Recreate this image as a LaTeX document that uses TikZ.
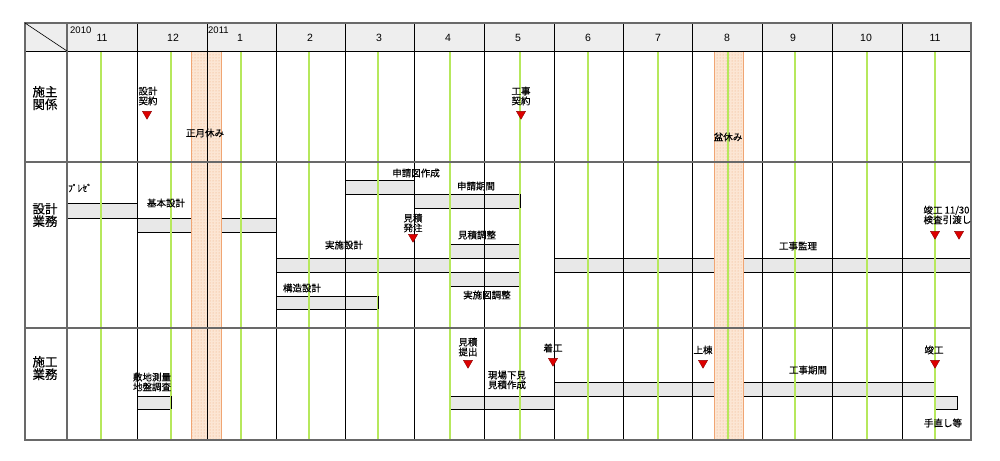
\documentclass[tikz,border=0pt]{standalone}
\usepackage{fontspec}
\setmainfont{Liberation Sans}
\newfontfamily\jp[FakeBold=0.35]{Noto Sans CJK JP}
\usetikzlibrary{patterns,shapes.geometric}
\definecolor{hdrfill}{RGB}{238,238,238}
\definecolor{barfill}{RGB}{232,232,232}
\definecolor{gline}{RGB}{182,232,92}
\definecolor{holfill}{RGB}{252,230,212}
\definecolor{holdot}{RGB}{238,168,118}
\definecolor{holedge}{RGB}{240,165,115}
\definecolor{framec}{RGB}{105,105,105}
\definecolor{mred}{RGB}{222,0,0}
\begin{document}
\begin{tikzpicture}[x=1pt,y=-1pt,
  lab/.style={font=\jp\fontsize{9.5}{9.8}\selectfont, inner sep=0pt, align=center},
  rowlab/.style={font=\jp\fontsize{12.5}{12.5}\selectfont, inner sep=0pt, align=center},
  mon/.style={font=\fontsize{10.5}{10.5}\selectfont, inner sep=0pt},
  yr/.style={font=\fontsize{9.5}{9.5}\selectfont, inner sep=0pt, anchor=west},
  bar/.style={fill=barfill, draw=black, line width=0.8pt},
  wbar/.style={fill=white, draw=black, line width=0.8pt},
  tri/.style={regular polygon, regular polygon sides=3, shape border rotate=180,
    fill=mred, draw=mred!65!black, line width=0.4pt, minimum size=10.5pt, inner sep=0pt},
  gl/.style={gline, line width=1.2pt},
  cl/.style={black, line width=0.8pt},
  fr/.style={framec, line width=1.5pt}
]
\useasboundingbox (0,0) rectangle (1000,460);
\fill[white] (0,0) rectangle (1000,460);
\fill[hdrfill] (25,23) rectangle (971,51);

% bars
\draw[bar] (67,203) rectangle (137,218);
\draw[bar] (137,218) rectangle (276,232);
\draw[bar] (345,180) rectangle (414,194);
\draw[bar] (414,194) rectangle (520,208);
\draw[bar] (276,258) rectangle (450,272);
\draw[wbar] (450,258) rectangle (520,272);
\draw[bar] (554,258) rectangle (971,272);
\draw[bar] (450,244) rectangle (520,258);
\draw[bar] (450,272) rectangle (520,286);
\draw[bar] (276,296) rectangle (378,309);
\draw[bar] (137,396) rectangle (171,409);
\draw[bar] (450,396) rectangle (554,409);
\draw[bar] (554,382) rectangle (935,396);
\draw[bar] (935,396) rectangle (957,409);

% holidays
\foreach \a/\b in {191/221,714/743} {
  \fill[holfill] (\a,51) rectangle (\b,440);
  \fill[pattern=dots, pattern color=holdot] (\a,51) rectangle (\b,440);
  \draw[holedge, line width=0.8pt] (\a,51) -- (\a,440) (\b,51) -- (\b,440);
}

% vertical lines
\foreach \x in {101,171,241,309,378,450,520,588,658,728,795,867,935}
  \draw[gl] (\x,51) -- (\x,440);
\foreach \x in {137,207,276,345,414,484,554,623,692,762,832,902}
  \draw[cl] (\x,23) -- (\x,440);
\draw[black, line width=0.6pt] (414,194) -- (414,208) (520,194) -- (520,208)
  (378,296) -- (378,309) (171,396) -- (171,409) (957,396) -- (957,409);
\draw[cl] (25,51) -- (971,51);
\draw[fr] (25,162) -- (971,162) (25,328) -- (971,328) (67,23) -- (67,440);
\draw[fr] (25,23) rectangle (971,440);
\draw[black, line width=0.6pt] (25,23) -- (67,51);

% header
\node[yr] (y2010) at (70,30) {2010};
\node[yr] (y2011) at (208,30) {2011};
\foreach \m/\x [count=\i] in {11/102,12/173,1/240,2/310,3/379,4/448,5/518,6/588,7/658,8/727,9/793,10/866,11/935}
  \node[mon] (mon\i) at (\x,38) {\m};

% row labels
\node[rowlab] (r1) at (45,98) {施主\\関係};
\node[rowlab] (r2) at (45,215) {設計\\業務};
\node[rowlab] (r3) at (45,368) {施工\\業務};

% row 1
\node[lab] (t1) at (148,96) {設計\\契約};
\node[tri] (m1) at (147,114) {};
\node[lab] (t2) at (521,96) {工事\\契約};
\node[tri] (m2) at (521,114) {};
\node[lab] (t3) at (205,133) {正月休み};
\node[lab] (t4) at (728,137) {盆休み};

% row 2
\node[lab] (t5) at (80,188) {ﾌﾟﾚｾﾞ};
\node[lab] (t6) at (166,203) {基本設計};
\node[lab] (t7) at (416,173) {申請図作成};
\node[lab] (t8) at (476,186) {申請期間};
\node[lab] (t9) at (413,223) {見積\\発注};
\node[tri] (m3) at (413,237) {};
\node[lab] (t10) at (344,245) {実施設計};
\node[lab] (t11) at (798,246) {工事監理};
\node[lab] (t12) at (477,235) {見積調整};
\node[lab] (t13) at (487,295) {実施図調整};
\node[lab] (t14) at (302,288) {構造設計};
\node[lab] (t15) at (933,215) {竣工\\検査};
\node[lab] (t16) at (957,215) {11/30\\引渡し};
\node[tri] (m4) at (935,234) {};
\node[tri] (m5) at (959,234) {};

% row 3
\node[lab] (t17) at (152,382) {敷地測量\\地盤調査};
\node[lab] (t18) at (468,347) {見積\\提出};
\node[tri] (m6) at (468,363) {};
\node[lab] (t19) at (553,348) {着工};
\node[tri] (m7) at (553,361) {};
\node[lab] (t20) at (507,380) {現場下見\\見積作成};
\node[lab] (t21) at (808,370) {工事期間};
\node[lab] (t22) at (703,350) {上棟};
\node[tri] (m8) at (703,363) {};
\node[lab] (t23) at (934,350) {竣工};
\node[tri] (m9) at (935,363) {};
\node[lab] (t24) at (943,423) {手直し等};
\end{tikzpicture}
\end{document}
